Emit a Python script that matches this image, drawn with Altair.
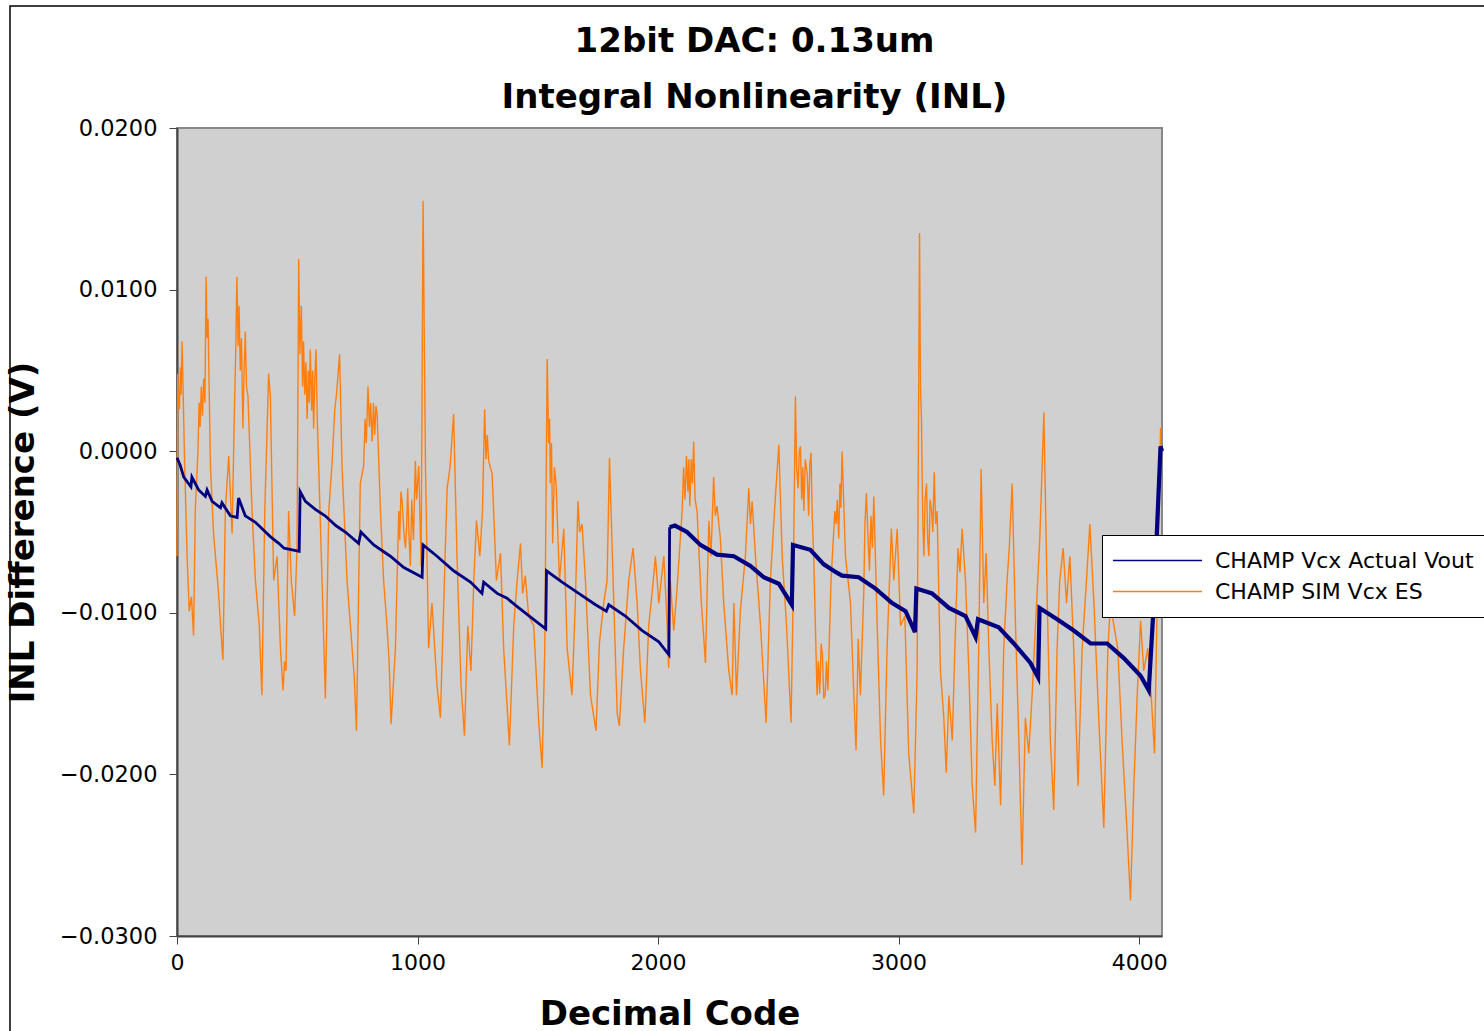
import altair as alt
import pandas as pd

title_lines = ["12bit DAC: 0.13um", "Integral Nonlinearity (INL)"]
series_names = ["CHAMP Vcx Actual Vout", "CHAMP SIM Vcx ES"]
series_colors = ["#000080", "#ff7f0e"]
x_ticks = [0, 1000, 2000, 3000, 4000]
y_ticks = [-0.03, -0.02, -0.01, 0.0, 0.01, 0.02]

actual_points = [
    (0, -0.0004), (14, -0.0009), (28, -0.0016), (58, -0.0022), (62, -0.0016), (90, -0.0024), (118, -0.0028),
    (125, -0.0024), (146, -0.0031), (181, -0.0035), (187, -0.0032), (222, -0.0040), (250, -0.0041),
    (256, -0.0029), (284, -0.0040), (326, -0.0044), (368, -0.0050), (389, -0.0053), (423, -0.0057),
    (445, -0.0060), (508, -0.0062),
    (512, -0.0025), (534, -0.0031), (575, -0.0036), (616, -0.0040), (660, -0.0046), (700, -0.0050),
    (755, -0.0057), (765, -0.0050), (818, -0.0058), (887, -0.0065), (943, -0.0072), (1019, -0.0078),
    (1023, -0.0058), (1081, -0.0065), (1150, -0.0074), (1220, -0.0081), (1268, -0.0088), (1275, -0.0081),
    (1331, -0.0088), (1372, -0.0091), (1421, -0.0097), (1490, -0.0105), (1533, -0.0110),
    (1536, -0.0074), (1601, -0.0081), (1670, -0.0088), (1740, -0.0095), (1785, -0.0099), (1795, -0.0095),
    (1864, -0.0102), (1934, -0.0111), (2003, -0.0118), (2045, -0.0126),
    (2048, -0.0047), (2070, -0.0046), (2120, -0.0050), (2176, -0.0058), (2245, -0.0064), (2315, -0.0065),
    (2384, -0.0071), (2439, -0.0078), (2502, -0.0082), (2556, -0.0095),
    (2561, -0.0058), (2633, -0.0061), (2689, -0.0070), (2741, -0.0075), (2765, -0.0077), (2834, -0.0078),
    (2904, -0.0085), (2973, -0.0094), (3029, -0.0099), (3068, -0.0112),
    (3074, -0.0085), (3139, -0.0088), (3209, -0.0097), (3278, -0.0102), (3320, -0.0115), (3330, -0.0104),
    (3416, -0.0109), (3479, -0.0119), (3548, -0.0131), (3580, -0.0140),
    (3586, -0.0097), (3659, -0.0104), (3728, -0.0111), (3798, -0.0119), (3867, -0.0119), (3936, -0.0128),
    (4006, -0.0139), (4040, -0.0148), (4061, -0.0094), (4089, 0.0003), (4095, 0.0),
]

# Simulated (orange) series: peaks, troughs and visible jitter
sim_points = [
    (0, -0.0065), (3, 0.0048), (6, 0.0030), (10, 0.0026), (14, 0.0052), (17, 0.0035), (21, 0.0068), (25, 0.0040),
    (32, -0.0009), (42, -0.0065), (51, -0.0099), (60, -0.0090), (69, -0.0114), (76, -0.0037), (87, 0.0000),
    (92, 0.0030), (96, 0.0015), (101, 0.0040), (106, 0.0022), (111, 0.0045), (116, 0.0030), (121, 0.0108),
    (125, 0.0070), (129, 0.0082), (139, -0.0009), (152, -0.0051), (173, -0.0088), (182, -0.0110),
    (191, -0.0129), (201, -0.0037), (215, -0.0003), (229, -0.0051), (238, 0.0020), (244, 0.0060),
    (249, 0.0108), (254, 0.0065), (258, 0.0090), (263, 0.0050), (268, 0.0070), (274, 0.0014), (279, 0.0050),
    (284, 0.0074), (289, 0.0040), (295, 0.0034), (312, -0.0037), (326, -0.0080), (342, -0.0108),
    (353, -0.0151), (365, -0.0037), (381, 0.0048), (388, 0.0034), (402, -0.0080), (416, -0.0065),
    (430, -0.0122), (441, -0.0148), (447, -0.0130), (453, -0.0136), (464, -0.0037), (475, -0.0080),
    (489, -0.0102), (499, -0.0060),
    (506, 0.0119), (511, 0.0060), (517, 0.0090), (522, 0.0040), (526, 0.0068), (531, 0.0035), (536, 0.0055),
    (541, 0.0020), (546, 0.0050), (550, 0.0030), (554, 0.0063), (560, 0.0025), (564, 0.0050), (568, 0.0014),
    (573, 0.0045), (578, 0.0063), (583, 0.0020), (589, -0.0009), (603, -0.0080), (617, -0.0153),
    (631, -0.0037), (644, -0.0009), (656, 0.0026), (663, 0.0035), (676, 0.0060), (686, -0.0009),
    (707, -0.0080), (728, -0.0122), (737, -0.0140), (746, -0.0173), (762, -0.0020),
    (776, -0.0009), (782, 0.0020), (787, 0.0005), (794, 0.0040), (800, 0.0015), (805, 0.0030), (811, 0.0006),
    (817, 0.0030), (822, 0.0010), (827, 0.0028), (832, 0.0023), (846, -0.0037), (859, -0.0080),
    (873, -0.0108), (882, -0.0130), (890, -0.0169), (908, -0.0122), (922, -0.0037), (926, -0.0055),
    (931, -0.0025), (936, -0.0031), (943, -0.0050), (950, -0.0060), (955, -0.0045), (959, -0.0023),
    (964, -0.0050), (970, -0.0071), (976, -0.0030), (983, -0.0055), (991, -0.0006), (996, -0.0030),
    (1005, -0.0009), (1015, -0.0071), (1023, 0.0155), (1033, -0.0009),
    (1046, -0.0122), (1060, -0.0094), (1081, -0.0145), (1095, -0.0165), (1109, -0.0094), (1123, -0.0023),
    (1135, -0.0010), (1150, 0.0023), (1164, -0.0065), (1181, -0.0145), (1195, -0.0176), (1209, -0.0108),
    (1222, -0.0136), (1234, -0.0080), (1245, -0.0043), (1259, -0.0065), (1270, -0.0037), (1279, 0.0026),
    (1285, -0.0005), (1290, 0.0010), (1296, -0.0006), (1310, -0.0014), (1328, -0.0080), (1345, -0.0063),
    (1358, -0.0122), (1382, -0.0182), (1400, -0.0108), (1414, -0.0080), (1428, -0.0057), (1437, -0.0088),
    (1448, -0.0077), (1462, -0.0102), (1483, -0.0108), (1504, -0.0168), (1518, -0.0196), (1529, -0.0122),
    (1539, 0.0057), (1545, 0.0005), (1549, 0.0020), (1552, -0.0020), (1557, 0.0005), (1562, -0.0057),
    (1569, -0.0010), (1576, -0.0020), (1583, -0.0050), (1590, -0.0080), (1608, -0.0048), (1622, -0.0122),
    (1642, -0.0151), (1656, -0.0094), (1667, -0.0031), (1674, -0.0050), (1684, -0.0045), (1698, -0.0080),
    (1719, -0.0151), (1742, -0.0173), (1756, -0.0119), (1774, -0.0094), (1788, -0.0080), (1798, -0.0004),
    (1816, -0.0094), (1830, -0.0162), (1839, -0.0170), (1857, -0.0122), (1878, -0.0080), (1896, -0.0060),
    (1913, -0.0094), (1927, -0.0136), (1945, -0.0168), (1961, -0.0108), (1975, -0.0088), (1989, -0.0065),
    (2003, -0.0094), (2024, -0.0065), (2038, -0.0108), (2044, -0.0134), (2051, -0.0080),
    (2065, -0.0111), (2079, -0.0085), (2100, -0.0037), (2106, -0.0010), (2112, -0.0030), (2118, -0.0003),
    (2124, -0.0025), (2128, -0.0005), (2132, -0.0034), (2138, -0.0005), (2143, -0.0020), (2148, 0.0006),
    (2154, -0.0030), (2162, -0.0037), (2180, -0.0094), (2197, -0.0131), (2211, -0.0043), (2220, -0.0065),
    (2231, -0.0016), (2238, -0.0040), (2245, -0.0034), (2259, -0.0054), (2273, -0.0094), (2294, -0.0136),
    (2308, -0.0151), (2315, -0.0094), (2326, -0.0151), (2342, -0.0099), (2363, -0.0065), (2377, -0.0023),
    (2384, -0.0045), (2391, -0.0031), (2405, -0.0065), (2426, -0.0108), (2449, -0.0168), (2467, -0.0080),
    (2484, -0.0037), (2502, 0.0004), (2516, -0.0065), (2534, -0.0108), (2553, -0.0168), (2561, -0.0094),
    (2571, 0.0034), (2576, -0.0010), (2582, -0.0023), (2587, 0.0000), (2592, 0.0003), (2597, -0.0030),
    (2602, -0.0010), (2606, -0.0037), (2612, -0.0005), (2620, -0.0014), (2626, -0.0040), (2631, -0.0008),
    (2636, -0.0001), (2641, -0.0040), (2647, -0.0065), (2661, -0.0151), (2666, -0.0130), (2672, -0.0150),
    (2678, -0.0119), (2683, -0.0125), (2689, -0.0153), (2695, -0.0150), (2700, -0.0130), (2706, -0.0148),
    (2719, -0.0080), (2735, -0.0037), (2740, -0.0045), (2745, -0.0030), (2751, -0.0054), (2756, -0.0020),
    (2760, -0.0035), (2765, 0.0000), (2779, -0.0065), (2800, -0.0094), (2814, -0.0151), (2823, -0.0185),
    (2832, -0.0116), (2841, -0.0151), (2855, -0.0088), (2860, -0.0045), (2866, -0.0026), (2872, -0.0050),
    (2879, -0.0074), (2885, -0.0040), (2891, -0.0060), (2897, -0.0028), (2911, -0.0108), (2925, -0.0179),
    (2938, -0.0213), (2952, -0.0122), (2970, -0.0048), (2980, -0.0080), (2994, -0.0048), (3008, -0.0108),
    (3026, -0.0102), (3042, -0.0187), (3063, -0.0224), (3077, -0.0136),
    (3087, 0.0135), (3091, 0.0040), (3095, 0.0020), (3100, -0.0040), (3105, -0.0065), (3110, -0.0030),
    (3116, -0.0020), (3121, -0.0055), (3126, -0.0065), (3131, -0.0030), (3137, -0.0037), (3142, -0.0050),
    (3148, -0.0013), (3154, -0.0045), (3160, -0.0037), (3174, -0.0136), (3188, -0.0165), (3198, -0.0199),
    (3209, -0.0151), (3223, -0.0179), (3234, -0.0122), (3247, -0.0060), (3255, -0.0075), (3264, -0.0048),
    (3278, -0.0080), (3292, -0.0136), (3306, -0.0207), (3320, -0.0236), (3333, -0.0122), (3343, -0.0011),
    (3354, -0.0094), (3364, -0.0063), (3375, -0.0122), (3389, -0.0179), (3400, -0.0207), (3410, -0.0156),
    (3424, -0.0219), (3437, -0.0122), (3451, -0.0080), (3460, -0.0060), (3472, -0.0020), (3486, -0.0108),
    (3500, -0.0179), (3513, -0.0256), (3527, -0.0165), (3541, -0.0187), (3555, -0.0151), (3569, -0.0108),
    (3587, -0.0054), (3604, 0.0024), (3618, -0.0094), (3631, -0.0179), (3645, -0.0222), (3659, -0.0122),
    (3670, -0.0080), (3684, -0.0060), (3698, -0.0094), (3712, -0.0065), (3728, -0.0122), (3746, -0.0207),
    (3763, -0.0122), (3781, -0.0080), (3795, -0.0045), (3812, -0.0094), (3832, -0.0165), (3853, -0.0233),
    (3870, -0.0122), (3881, -0.0094), (3895, -0.0108), (3911, -0.0122), (3929, -0.0179), (3950, -0.0236),
    (3964, -0.0278), (3978, -0.0207), (3992, -0.0151), (4006, -0.0105), (4019, -0.0136), (4036, -0.0122),
    (4050, -0.0151), (4064, -0.0187), (4075, -0.0094), (4089, 0.0014), (4095, 0.0014),
]

FONT = "DejaVu Sans"

df_sim = pd.DataFrame(sim_points, columns=["code", "inl"])
df_sim["series"] = series_names[1]
df_actual = pd.DataFrame(actual_points, columns=["code", "inl"])
df_actual["series"] = series_names[0]
df_actual_lo = df_actual[df_actual["code"] <= 2048]
df_actual_hi = df_actual[df_actual["code"] >= 2048]

color = alt.Color(
    "series:N",
    scale=alt.Scale(domain=series_names, range=series_colors),
    title=None,
    legend=alt.Legend(
        orient="none", legendX=925, legendY=407,
        fillColor="white", strokeColor="black", padding=14.5,
        labelFont=FONT, labelFontSize=22, labelColor="black", labelLimit=600,
        symbolType="M-3.22,0H16.56", symbolSize=81, symbolStrokeWidth=1.5,
        labelOffset=76.5, rowPadding=9,
    ),
)

x = alt.X(
    "code:Q",
    scale=alt.Scale(domain=[0, 4095], nice=False, zero=False),
    axis=alt.Axis(
        values=x_ticks, format="d", title="Decimal Code", grid=False, labelFlush=False,
        labelFont=FONT, labelFontSize=22, labelColor="black", labelPadding=8,
        tickSize=8, tickColor="#444444", domainColor="#444444", domainWidth=2,
        titleFont=FONT, titleFontSize=34, titleFontWeight="bold", titleColor="black",
        titleY=88, titleBaseline="alphabetic",
    ),
)
y = alt.Y(
    "inl:Q",
    scale=alt.Scale(domain=[-0.03, 0.02], nice=False, zero=False),
    axis=alt.Axis(
        values=y_ticks, format=".4f", title="INL Difference (V)", grid=False,
        labelFont=FONT, labelFontSize=22.5, labelColor="black", labelPadding=12,
        tickSize=8, tickColor="#444444", domainColor="#444444", domainWidth=2,
        titleFont=FONT, titleFontSize=34, titleFontWeight="bold", titleColor="black",
        titleX=-144, titleY=404, titleAngle=270, titleAlign="center", titleBaseline="alphabetic",
    ),
)

frame = alt.Chart(pd.DataFrame({"f": [0]})).mark_rect(
    fillOpacity=0, stroke="black", strokeWidth=1.5
).encode(x=alt.value(-167), x2=alt.value(1340), y=alt.value(-122), y2=alt.value(930))

sim_layer = alt.Chart(df_sim).mark_line(strokeWidth=1.4).encode(x=x, y=y, color=color)
actual_lo_layer = alt.Chart(df_actual_lo).mark_line(strokeWidth=2.8).encode(x=x, y=y, color=color)
actual_hi_layer = alt.Chart(df_actual_hi).mark_line(strokeWidth=4.2).encode(x=x, y=y, color=color)

chart = alt.layer(frame, sim_layer, actual_lo_layer, actual_hi_layer).properties(
    width=985,
    height=808,
    padding={"left": 177, "top": 128, "right": 322, "bottom": 95},
    autosize=alt.AutoSizeParams(type="none"),
    background="white",
    title=alt.TitleParams(
        text=title_lines, font=FONT, fontSize=34, fontWeight="bold", color="black",
        anchor="middle", dx=85, dy=114, lineHeight=56, offset=4,
    ),
).configure_view(fill="#d0d0d0", stroke="#888888", strokeWidth=2)

chart.save("out.html", embed_options={"renderer": "svg", "actions": False})
